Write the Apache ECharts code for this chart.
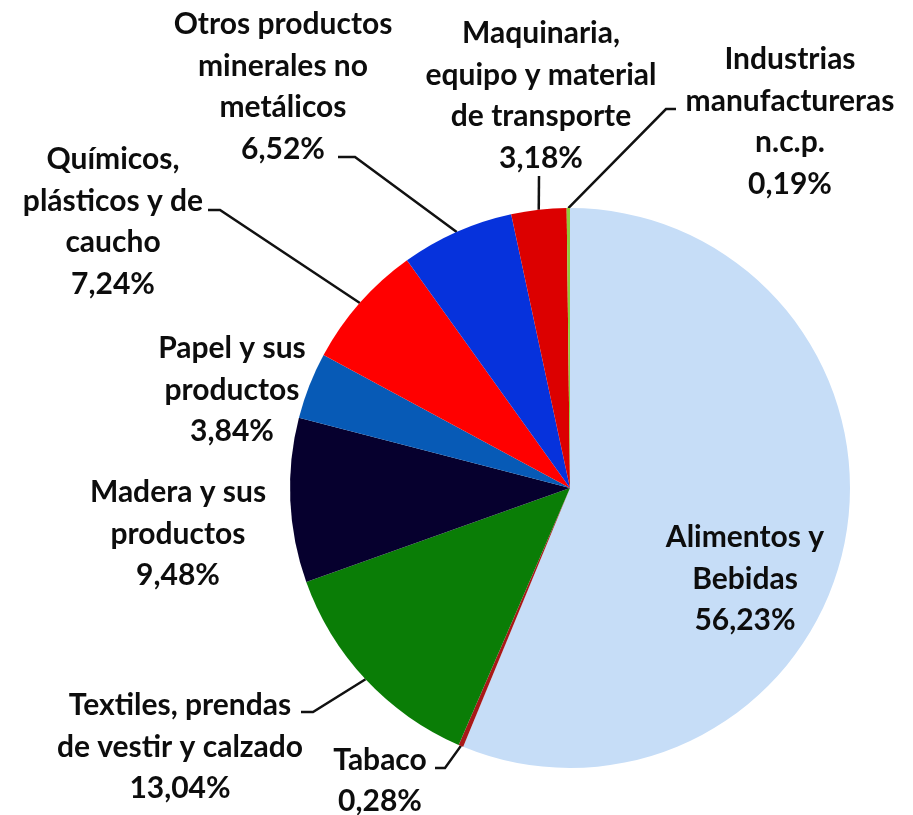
<!DOCTYPE html>
<html>
<head>
<meta charset="utf-8">
<script src="https://cdn.jsdelivr.net/npm/echarts@6/dist/echarts.min.js"></script>
<style>
  html, body { margin: 0; padding: 0; background: #fff; }
  #chart { width: 913px; height: 815px; }
</style>
</head>
<body>
<div id="chart"></div>
<script>
  // sectores (en orden horario desde las 12)
  var categories = [
    'Alimentos y\nBebidas',
    'Tabaco',
    'Textiles, prendas\nde vestir y calzado',
    'Madera y sus\nproductos',
    'Papel y sus\nproductos',
    'Químicos,\nplásticos y de\ncaucho',
    'Otros productos\nminerales no\nmetálicos',
    'Maquinaria,\nequipo y material\nde transporte',
    'Industrias\nmanufactureras\nn.c.p.'
  ];
  var shares = [56.23, 0.28, 13.04, 9.48, 3.84, 7.24, 6.52, 3.18, 0.19];
  var colors = ['#c6ddf7', '#a81818', '#0a7d06', '#06002e', '#075ab6',
                '#ff0000', '#0632dc', '#dc0000', '#8ccc3c'];

  // posicion de cada etiqueta y quiebre de su linea guia
  var labelPos = [
    [745, 579], [380, 781], [180, 747], [178, 534], [232, 390],
    [113, 222], [283, 87], [541, 96], [790, 122]
  ];
  var leaderBend = [
    null, [[445, 768], [435, 768]], [[313, 712], [301, 712]], null, null,
    [[220, 210], [208, 210]], [[355, 157], [338, 157]], [[539, 176]],
    [[666, 109], [676, 109]]
  ];

  var chart = echarts.init(document.getElementById('chart'));
  chart.setOption({
    animation: false,
    color: colors,
    series: [{
      type: 'pie',
      center: [570, 488],
      radius: 280,
      startAngle: 90,
      clockwise: true,
      avoidLabelOverlap: false,
      itemStyle: { borderWidth: 0 },
      label: {
        show: true,
        position: 'outside',
        color: '#0d0d0d',
        fontFamily: 'Lato',
        fontWeight: 'bold',
        fontSize: 30,
        lineHeight: 41.5,
        align: 'center',
        formatter: function (p) {
          return p.name + '\n' + p.value.toFixed(2).replace('.', ',') + '%';
        }
      },
      labelLine: {
        show: true,
        lineStyle: { color: '#111', width: 2.5 }
      },
      labelLayout: function (p) {
        var i = p.dataIndex;
        var out = {
          x: labelPos[i][0],
          y: labelPos[i][1],
          align: 'center',
          verticalAlign: 'middle'
        };
        if (leaderBend[i] && p.labelLinePoints) {
          out.labelLinePoints = [p.labelLinePoints[0]].concat(leaderBend[i]);
        }
        return out;
      },
      data: categories.map(function (c, i) {
        var d = { name: c, value: shares[i] };
        if (!leaderBend[i]) d.labelLine = { show: false };
        return d;
      })
    }]
  });
</script>
</body>
</html>
